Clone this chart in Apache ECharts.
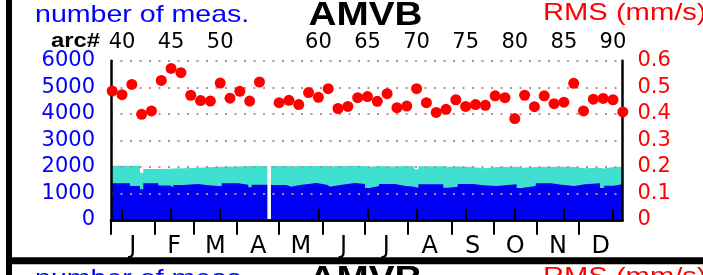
<!DOCTYPE html>
<html>
<head>
<meta charset="utf-8">
<script src="https://cdn.jsdelivr.net/npm/echarts@6/dist/echarts.min.js"></script>
<style>
  html, body { margin: 0; padding: 0; background: #fff; }
  #main { width: 703px; height: 275px; }
</style>
</head>
<body>
<div id="main"></div>
<script>
// arc numbers with an RMS value (arc 55 has no data)
var arcs = [39, 40, 41, 42, 43, 44, 45, 46, 47, 48, 49, 50, 51, 52, 53, 54,
  56, 57, 58, 59, 60, 61, 62, 63, 64, 65, 66, 67, 68, 69, 70, 71, 72, 73, 74,
  75, 76, 77, 78, 79, 80, 81, 82, 83, 84, 85, 86, 87, 88, 89, 90, 91];
var rms = [0.486, 0.472, 0.511, 0.398, 0.411, 0.526, 0.571, 0.555, 0.470, 0.450,
  0.448, 0.516, 0.459, 0.485, 0.448, 0.520,
  0.442, 0.451, 0.435, 0.480, 0.462, 0.495, 0.420, 0.428, 0.461, 0.465, 0.447,
  0.476, 0.423, 0.429, 0.495, 0.442, 0.405, 0.417, 0.453, 0.428, 0.435, 0.432,
  0.468, 0.461, 0.382, 0.470, 0.427, 0.468, 0.438, 0.444, 0.515, 0.411, 0.455,
  0.458, 0.453, 0.407];

// number of measurements, as steps: each value holds from its start arc to the next one
var stepStart = [38.88, 40.81, 41.83, 42.17, 43.70, 44.89, 45.22, 46.24, 47.77, 48.79,
  50.15, 51.84, 52.86, 53.21, 54.80, 55.17, 56.77, 57.21, 58.13, 59.83,
  60.85, 61.18, 62.20, 63.73, 64.75, 65.18, 66.17, 67.80, 68.75, 69.77,
  70.17, 72.72, 73.17, 74.19, 75.78, 76.79, 78.16, 80.19, 80.70, 82.13,
  83.69, 84.78, 86.06, 87.15, 88.68, 89.11, 90.03];
var stepEnd = 90.97;
var blueCount = [1375, 1274, 1150, 1375, 1290, 1224, 1312, 1350, 1300, 1262,
  1375, 1324, 1224, 1324, 0, 1312, 1250, 1312, 1387, 1324,
  1250, 1312, 1387, 1350, 1199, 1274, 1350, 1287, 1250, 1199,
  1337, 1210, 1250, 1350, 1300, 1274, 1337, 1199, 1274, 1375,
  1324, 1274, 1337, 1375, 1199, 1287, 1337];
var totalCount = [2040, 2040, 1780, 1920, 1930, 1940, 1950, 1960, 1980, 2000,
  2010, 2030, 2030, 2030, 0, 2030, 2020, 2030, 2030, 2030,
  2020, 2030, 2040, 2030, 2000, 2030, 2010, 2030, 2020, 1910,
  2020, 2000, 2010, 1990, 1950, 1990, 2000, 1960, 1990, 2000,
  2000, 1990, 1950, 1960, 1940, 1990, 2000];

var arcTicks = [40, 45, 50, 60, 65, 70, 75, 80, 85, 90];
var monthLetters = ['J', 'F', 'M', 'A', 'M', 'J', 'J', 'A', 'S', 'O', 'N', 'D'];
var monthStarts = [0, 31, 59, 90, 120, 151, 181, 212, 243, 273, 304, 334, 365];

var monthMids = monthLetters.map(function (m, i) {
  return (monthStarts[i] + monthStarts[i + 1]) / 2;
});

function steps(values) {
  var d = stepStart.map(function (a, i) { return [a, values[i]]; });
  d.push([stepEnd, values[values.length - 1]]);
  return d;
}

var tickFont = 'DejaVu Sans';

function label(text, x, y, size, color, bold, align) {
  return {
    type: 'text', x: x, y: y, scaleX: 1.19, silent: true,
    style: {
      text: text, x: 0, y: 0, fill: color,
      font: (bold ? 'bold ' : '') + size + 'px "Liberation Sans", Arial, sans-serif',
      textAlign: align, textVerticalAlign: 'middle'
    }
  };
}

var myChart = echarts.init(document.getElementById('main'));

var option = {
  animation: false,
  grid: { left: 111, top: 60.8, width: 511.5, height: 159 },
  xAxis: [
    {
      type: 'value', position: 'top', min: 38.88, max: stepEnd,
      axisLine: { lineStyle: { color: '#000', width: 2.5 } },
      axisTick: { customValues: arcTicks, length: 11, lineStyle: { color: '#000', width: 2 } },
      axisLabel: { customValues: arcTicks, color: '#000', fontFamily: tickFont, fontSize: 21, margin: 8 },
      splitLine: { show: false }
    },
    {
      type: 'value', position: 'bottom', min: 0, max: 365,
      axisLine: { lineStyle: { color: '#000', width: 2.5 } },
      axisTick: { customValues: monthStarts.slice(0, 12), length: 15, lineStyle: { color: '#000', width: 2 } },
      axisLabel: {
        customValues: monthMids, color: '#000', fontFamily: tickFont, fontSize: 24, margin: 15,
        formatter: function (v) { return monthLetters[monthMids.indexOf(v)]; }
      },
      splitLine: { show: false }
    }
  ],
  yAxis: [
    {
      type: 'value', position: 'left', min: 0, max: 6000, interval: 1000,
      axisLine: { show: true, lineStyle: { color: '#000', width: 2.5 } },
      axisTick: { show: false },
      axisLabel: {
        color: '#0000ff', fontFamily: tickFont, fontSize: 21, margin: 16,
        formatter: function (v) { return String(v); }
      },
      splitLine: { show: true, lineStyle: { color: '#bc8f8f', width: 2, type: [2, 7.5] } }
    },
    {
      type: 'value', position: 'right', min: 0, max: 0.6, interval: 0.1,
      axisLine: { show: true, lineStyle: { color: '#000', width: 2.5 } },
      axisTick: { show: false },
      axisLabel: { color: '#ff0000', fontFamily: tickFont, fontSize: 21, margin: 15 },
      splitLine: { show: false }
    }
  ],
  series: [
    {
      type: 'line', step: 'end', xAxisIndex: 0, yAxisIndex: 0, z: -1,
      symbol: 'none', lineStyle: { width: 0 },
      areaStyle: { color: '#40e0d0', opacity: 1 },
      data: steps(totalCount)
    },
    {
      type: 'line', step: 'end', xAxisIndex: 0, yAxisIndex: 0, z: -1,
      symbol: 'none', lineStyle: { width: 0 },
      areaStyle: { color: '#0000f2', opacity: 1 },
      data: steps(blueCount)
    },
    {
      type: 'scatter', xAxisIndex: 0, yAxisIndex: 1, clip: false,
      symbolSize: 11, itemStyle: { color: '#ff0000', opacity: 1 },
      data: arcs.map(function (a, i) { return [a, rms[i]]; })
    }
  ],
  graphic: [
    { type: 'rect', silent: true, shape: { x: 6, y: 0, width: 6, height: 275 }, style: { fill: '#000' } },
    { type: 'rect', silent: true, shape: { x: 6, y: 257.3, width: 697, height: 7 }, style: { fill: '#000' } },
    label('number of meas.', 35, 15.3, 24, '#0000ff', false, 'left'),
    label('AMVB', 365.5, 16, 32.5, '#000', true, 'center'),
    label('RMS (mm/s)', 543, 12.8, 24.5, '#ff0000', false, 'left'),
    label('arc#', 100, 41.5, 20, '#000', true, 'right'),
    // titles of the next panel, cut off by the bottom edge
    label('number of meas.', 35, 15.3 + 264, 24, '#0000ff', false, 'left'),
    label('AMVB', 365.5, 16 + 264, 32.5, '#000', true, 'center'),
    label('RMS (mm/s)', 543, 12.8 + 264, 24.5, '#ff0000', false, 'left')
  ]
};

option && myChart.setOption(option);
</script>
</body>
</html>
